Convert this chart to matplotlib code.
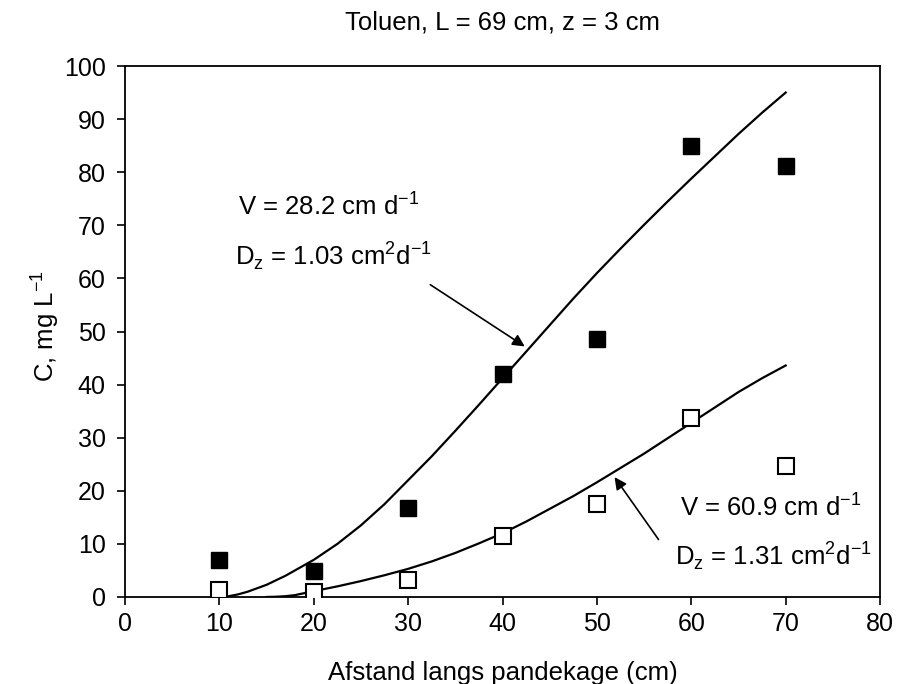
import matplotlib
matplotlib.use("Agg")
import matplotlib.pyplot as plt

plt.rcParams['font.family'] = ['Liberation Sans', 'DejaVu Sans']
plt.rcParams['mathtext.fontset'] = 'custom'
plt.rcParams['mathtext.rm'] = 'Liberation Sans'

# measured concentrations
afstand = [10, 20, 30, 40, 50, 60, 70]
c_fyldt = [7.0, 4.9, 16.8, 42.0, 48.5, 85.0, 81.2]
c_aaben = [1.3, 1.0, 3.2, 11.5, 17.6, 33.7, 24.7]

# fitted curves
kurve1_x = [10, 11, 12, 13, 15, 17, 20, 22.5, 25, 27.5, 30, 32.5, 35, 37.5, 40, 42.5, 45, 47.5, 50, 52.5, 55, 57.5, 60, 62.5, 65, 67.5, 70]
kurve1_y = [0.0, 0.15, 0.5, 1.0, 2.3, 4.0, 7.0, 10.0, 13.5, 17.5, 22.0, 26.5, 31.3, 36.2, 41.2, 46.2, 51.2, 56.2, 61.0, 65.6, 70.1, 74.5, 78.8, 83.0, 87.2, 91.2, 95.0]
kurve2_x = [15, 16, 17, 18, 20, 22.5, 25, 27.5, 30, 32.5, 35, 37.5, 40, 42.5, 45, 47.5, 50, 52.5, 55, 57.5, 60, 62.5, 65, 67.5, 70]
kurve2_y = [0.0, 0.05, 0.15, 0.35, 1.1, 2.0, 3.0, 4.1, 5.3, 6.7, 8.3, 10.1, 12.0, 14.2, 16.6, 19.0, 21.6, 24.3, 27.0, 29.9, 32.8, 35.7, 38.6, 41.2, 43.6]

x_ticks = [0, 10, 20, 30, 40, 50, 60, 70, 80]
y_ticks = [0, 10, 20, 30, 40, 50, 60, 70, 80, 90, 100]

fig = plt.figure(figsize=(9.04, 6.84), dpi=100, facecolor='white')
ax = fig.add_axes([0.1383, 0.1272, 0.8352, 0.7763])

ax.plot(kurve1_x, kurve1_y, color='black', lw=1.6, zorder=2)
ax.plot(kurve2_x, kurve2_y, color='black', lw=1.6, zorder=2)
ax.plot(afstand, c_fyldt, 's', ms=11.5, mfc='black', mec='black', mew=1.0, zorder=3)
ax.plot(afstand, c_aaben, 's', ms=11.5, mfc='white', mec='black', mew=1.5, zorder=3)

ax.set_xlim(0, 80)
ax.set_ylim(0, 100)
ax.set_xticks(x_ticks)
ax.set_yticks(y_ticks)
ax.tick_params(axis='both', labelsize=18, direction='out', length=6, width=1.2)
ax.tick_params(axis='x', pad=5)
ax.tick_params(axis='y', pad=8)
for s in ax.spines.values():
    s.set_linewidth(1.3)

ax.text(0.5, 1.081, 'Toluen, L = 69 cm, z = 3 cm', fontsize=18.5,
        ha='center', va='center', transform=ax.transAxes)
ax.set_xlabel('Afstand langs pandekage (cm)', fontsize=18.5)
ax.xaxis.set_label_coords(0.5, -0.143)
ax.xaxis.label.set_va('center')
ax.set_ylabel(r'C, mg L$^{\mathregular{-1}}$', fontsize=18.5)
ax.yaxis.set_label_coords(-0.106, 0.51)
ax.yaxis.label.set_va('center')

ax.text(12.0, 72, r'V = 28.2 cm d$^{\mathregular{-1}}$', fontsize=18.5, ha='left', va='baseline')
ax.text(11.7, 62.5, r'D$_{\mathregular{z}}$ = 1.03 cm$^{\mathregular{2}}$d$^{\mathregular{-1}}$', fontsize=18.5, ha='left', va='baseline')
ax.text(58.8, 15.4, r'V = 60.9 cm d$^{\mathregular{-1}}$', fontsize=18.5, ha='left', va='baseline')
ax.text(58.3, 6.0, r'D$_{\mathregular{z}}$ = 1.31 cm$^{\mathregular{2}}$d$^{\mathregular{-1}}$', fontsize=18.5, ha='left', va='baseline')

pil = dict(arrowstyle='-|>', color='black', lw=1.2, mutation_scale=18)
ax.annotate('', xy=(42.6, 46.9), xytext=(32.1, 59.1), arrowprops=pil)
ax.annotate('', xy=(51.7, 23.0), xytext=(56.7, 10.4), arrowprops=pil)

fig.savefig('out.png', dpi=100, facecolor='white')
